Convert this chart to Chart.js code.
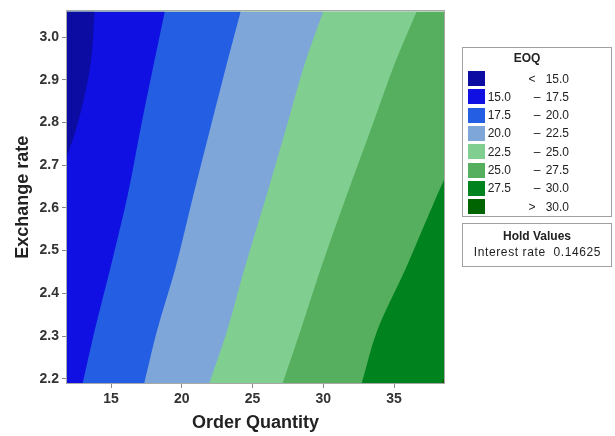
<!DOCTYPE html>
<html>
<head>
<meta charset="utf-8">
<script src="https://cdn.jsdelivr.net/npm/chart.js@4/dist/chart.umd.min.js"></script>
<style>
  html, body { margin: 0; padding: 0; background: #fff; }
  #wrap { position: relative; width: 615px; height: 436px; font-family: 'Liberation Sans', Arial, sans-serif; color: #222; }
  #chart { position: absolute; left: 0; top: 0; }
  .box { position: absolute; border: 1px solid #a0a0a0; box-sizing: border-box; background: #fff; }
  .t { position: absolute; font-size: 12px; line-height: 14px; white-space: nowrap; }
  .sw { position: absolute; width: 17px; height: 15px; }
</style>
</head>
<body>
<div id="wrap">
  <canvas id="chart" width="615" height="436"></canvas>
  <div id="legend"></div>
</div>
<script>
const yLevels = [2.19, 2.31, 2.46, 2.63, 2.80, 2.94, 3.06];

// order quantity of each EOQ contour line at those levels
const b15 = [8.0, 9.0, 10.0, 11.0, 12.67, 13.57, 13.84];
const b175 = [13.00, 13.82, 14.96, 16.18, 17.17, 18.04, 18.80];
const b20 = [17.35, 18.23, 19.56, 20.82, 22.12, 23.20, 24.16];
const b225 = [21.95, 23.18, 24.45, 26.00, 27.49, 28.71, 30.00];
const b25 = [27.13, 28.36, 29.84, 31.66, 33.54, 35.07, 36.60];
const b275 = [32.72, 33.78, 35.85, 38.05, 40.40, 42.30, 43.90];
const b30 = [38.35, 40.20, 42.20, 44.40, 46.80, 48.70, 50.30];
const farLeft = [0, 0, 0, 0, 0, 0, 0];
const farRight = [60, 60, 60, 60, 60, 60, 60];

const levels = [15.0, 17.5, 20.0, 22.5, 25.0, 27.5, 30.0];
const bandColors = ['#0d0ca2', '#1010e2', '#245ee2', '#7ea6d9', '#81cf90', '#55af5e', '#00821e', '#006400'];
const holdName = 'Interest rate';
const holdValue = '0.14625';

const boundaries = [b15, b175, b20, b225, b25, b275, b30, farRight];

function pts(xs) {
  return xs.map((x, i) => ({ x: x, y: yLevels[i] }));
}

// dataset 0 is an invisible edge; every contour line fills back to it.
// the filler paints last-to-first, so each band lands on top of the ones to its right
const datasets = [{ data: pts(farLeft), borderWidth: 0, pointRadius: 0, fill: false }];
boundaries.forEach((b, i) => {
  datasets.push({
    data: pts(b),
    backgroundColor: bandColors[i],
    borderWidth: 0,
    pointRadius: 0,
    cubicInterpolationMode: 'monotone',
    fill: 0
  });
});

const frame = {
  id: 'frame',
  afterDatasetsDraw(chart) {
    const a = chart.chartArea;
    const c = chart.ctx;
    c.save();
    c.strokeStyle = '#a8a8a8';
    c.lineWidth = 1;
    c.strokeRect(Math.round(a.left) - 0.5, Math.round(a.top) - 0.5, Math.round(a.right - a.left) + 1, Math.round(a.bottom - a.top) + 1);
    c.restore();
  }
};

const tickFont = { family: "'Liberation Sans', Arial, sans-serif", size: 14, weight: 'bold' };
const titleFont = { family: "'Liberation Sans', Arial, sans-serif", size: 18, weight: 'bold' };

new Chart(document.getElementById('chart'), {
  type: 'line',
  data: { datasets },
  options: {
    indexAxis: 'y',
    responsive: false,
    animation: false,
    events: [],
    layout: { padding: { top: 8, right: 171, left: 0, bottom: 0 } },
    plugins: {
      legend: { display: false },
      tooltip: { enabled: false },
      filler: { propagate: false }
    },
    scales: {
      x: {
        type: 'linear',
        position: 'bottom',
        min: 11.89,
        max: 38.53,
        ticks: { stepSize: 5, includeBounds: false, font: tickFont, color: '#333', padding: 3, maxRotation: 0 },
        grid: { drawOnChartArea: false, tickLength: 5, tickColor: '#888' },
        border: { display: false },
        title: { display: true, text: 'Order Quantity', font: titleFont, color: '#222', padding: { top: 0, bottom: 2 } },
        afterFit(s) { s.height = 53; }
      },
      y: {
        type: 'linear',
        position: 'left',
        min: 2.19,
        max: 3.06,
        ticks: { stepSize: 0.1, includeBounds: false, font: tickFont, color: '#333', padding: 3, callback: v => v.toFixed(1) },
        grid: { drawOnChartArea: false, tickLength: 5, tickColor: '#888' },
        border: { display: false },
        title: { display: true, text: 'Exchange rate', font: titleFont, color: '#222', padding: { top: 12, bottom: 0 } },
        afterFit(s) { s.width = 67; }
      }
    }
  },
  plugins: [frame]
});

// side legend, built from the same level and colour arrays
const leg = document.getElementById('legend');
function add(html) { leg.insertAdjacentHTML('beforeend', html); }
add('<div class="box" style="left:462px;top:47px;width:150px;height:170px"></div>');
add('<div class="t" style="left:497px;top:51px;width:60px;text-align:center;font-weight:bold">EOQ</div>');
for (let i = 0; i < bandColors.length; i++) {
  const top = 71 + i * 18.33;
  add('<div class="sw" style="left:468px;top:' + top + 'px;background:' + bandColors[i] + '"></div>');
  const ty = top + 0.5;
  let lo = '', mid = '', hi = '';
  if (i === 0) { mid = '&lt;'; hi = levels[0].toFixed(1); }
  else if (i === bandColors.length - 1) { mid = '&gt;'; hi = levels[levels.length - 1].toFixed(1); }
  else { lo = levels[i - 1].toFixed(1); mid = '&ndash;'; hi = levels[i].toFixed(1); }
  if (lo) add('<div class="t" style="left:471px;top:' + ty + 'px;width:40px;text-align:right">' + lo + '</div>');
  const mx = i === 0 || i === bandColors.length - 1 ? 526 : 531;
  add('<div class="t" style="left:' + mx + 'px;top:' + ty + 'px;width:12px;text-align:center">' + mid + '</div>');
  add('<div class="t" style="left:529px;top:' + ty + 'px;width:40px;text-align:right">' + hi + '</div>');
}
add('<div class="box" style="left:462px;top:223px;width:150px;height:44px"></div>');
add('<div class="t" style="left:462px;top:229px;width:150px;text-align:center;font-weight:bold">Hold Values</div>');
add('<div class="t" style="left:460px;top:245px;width:155px;text-align:center;letter-spacing:0.6px">' + holdName + '&nbsp; ' + holdValue + '</div>');
</script>
</body>
</html>
